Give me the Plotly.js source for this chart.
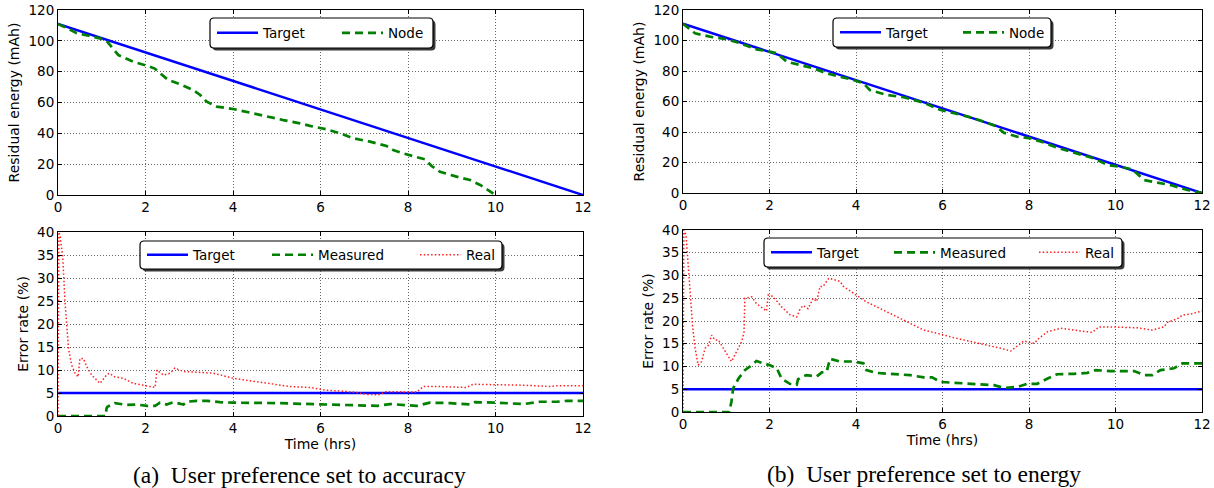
<!DOCTYPE html>
<html><head><meta charset="utf-8">
<script src="https://cdn.plot.ly/plotly-3.0.1.min.js"></script>
<style>html,body{margin:0;padding:0;background:#fff}#chart{width:1214px;height:488px}</style>
</head><body><div id="chart"></div>
<script>
const W = 1214, H = 488;

// ---------- data ----------
const xTicks = [0, 2, 4, 6, 8, 10, 12];
const energyTicks = [0, 20, 40, 60, 80, 100, 120];
const errorTicks = [0, 5, 10, 15, 20, 25, 30, 35, 40];

const targetTime = [0, 12];
const targetEnergy = [111, 0];
const targetError = [5, 5];

// (a) accuracy preference – node residual energy
const nodeTimeA = [0, 0.43, 0.96, 1.11, 1.38, 1.72, 2.03, 2.21, 2.33, 2.52, 2.83, 3.09, 3.25, 3.40, 3.63, 4.0, 4.39, 4.77, 5.15, 5.53, 5.76, 6.14, 6.45, 6.75, 7.13, 7.51, 7.66, 7.89, 8.20, 8.39, 8.54, 8.73, 9.11, 9.42, 9.65, 9.87, 10.0];
const nodeEnergyA = [111, 105, 101.6, 100, 90.8, 86.5, 83.9, 82, 79, 74.6, 71.4, 68, 64.9, 60.5, 57.3, 55.8, 53.4, 50.8, 48.6, 46.5, 44.8, 42.6, 40, 36.8, 34.6, 31.8, 29.2, 27, 24.8, 23.1, 18.8, 15.1, 11.9, 9.7, 6.5, 2.1, 0];

// (b) energy preference – node residual energy
const nodeTimeB = [0, 0.28, 0.62, 1.01, 1.32, 1.70, 2.0, 2.17, 2.40, 2.71, 3.01, 3.32, 3.63, 3.94, 4.17, 4.32, 4.71, 5.10, 5.57, 5.96, 6.27, 6.65, 6.96, 7.23, 7.42, 7.73, 8.04, 8.35, 8.65, 8.96, 9.27, 9.50, 9.81, 10.12, 10.39, 10.66, 10.97, 11.27, 11.66, 12];
const nodeEnergyB = [111, 104.7, 102.5, 100.8, 98.2, 94.2, 92.7, 91.6, 86.1, 83.9, 81.8, 78.5, 76.3, 74.1, 71.9, 67.5, 64.3, 62.8, 59.2, 54.4, 52.3, 49.6, 46.8, 43.9, 39.5, 36.9, 35.8, 33, 29.7, 27.1, 24.3, 22.7, 18.4, 17.2, 15.5, 8.5, 6.8, 5.2, 2.0, 0];

// (a) error rates
const measTimeA = [0, 1.09, 1.11, 1.13, 1.30, 1.57, 1.80, 2.03, 2.22, 2.33, 2.48, 2.64, 2.87, 2.94, 3.17, 3.40, 3.70, 4.0, 5.0, 6.0, 7.3, 7.59, 7.89, 8.2, 8.5, 8.96, 9.42, 9.53, 10.0, 10.64, 11.02, 11.4, 11.63, 12];
const measErrA = [0, 0, 1.7, 2.0, 2.8, 2.4, 2.5, 2.2, 2.2, 2.9, 2.5, 3.0, 2.5, 3.1, 3.3, 3.3, 3.0, 2.9, 2.8, 2.6, 2.2, 2.6, 2.4, 2.2, 2.9, 2.8, 2.5, 3.0, 2.9, 2.6, 3.1, 3.1, 3.3, 3.3];
const realTimeA = [0, 0.02, 0.05, 0.11, 0.16, 0.20, 0.24, 0.31, 0.39, 0.46, 0.50, 0.58, 0.66, 0.77, 0.96, 1.11, 1.17, 1.30, 1.49, 1.72, 2.03, 2.22, 2.26, 2.41, 2.56, 2.67, 2.86, 3.09, 3.40, 3.55, 4.0, 4.77, 5.31, 5.76, 6.14, 6.52, 6.83, 7.05, 7.32, 7.51, 7.89, 8.20, 8.35, 8.73, 9.34, 9.49, 10.0, 10.64, 11.25, 11.4, 12];
const realErrA = [0, 40, 39, 34.3, 24.8, 19.8, 14.7, 11.1, 9.3, 8.5, 12.5, 12.5, 10.7, 8.9, 7.1, 8.9, 9.3, 8.5, 8.2, 7.1, 6.6, 6.2, 10.0, 8.9, 9.3, 10.4, 9.7, 9.6, 9.5, 9.3, 8.2, 7.1, 6.4, 6.2, 5.6, 5.4, 5.1, 4.7, 4.6, 5.3, 5.3, 5.2, 6.4, 6.4, 6.2, 6.9, 6.8, 6.7, 6.4, 6.6, 6.6];

// (b) error rates
const measTimeB = [0, 1.07, 1.12, 1.16, 1.28, 1.43, 1.59, 1.70, 1.86, 2.0, 2.17, 2.28, 2.47, 2.63, 2.66, 2.85, 3.09, 3.21, 3.32, 3.40, 3.63, 3.94, 4.17, 4.24, 4.46, 4.86, 5.25, 5.57, 5.76, 5.96, 6.65, 7.19, 7.42, 7.73, 7.96, 8.19, 8.42, 8.65, 9.04, 9.35, 9.54, 9.88, 10.43, 10.66, 10.85, 11.04, 11.35, 11.55, 12];
const measErrB = [0, 0, 2.3, 5.2, 7.3, 9.2, 10.3, 11.2, 10.7, 10.3, 9.6, 7.3, 6.2, 6.0, 7.2, 8.1, 7.8, 8.7, 8.8, 11.7, 11.1, 11.1, 10.7, 9.2, 8.6, 8.4, 8.1, 7.6, 7.6, 6.6, 6.2, 5.9, 5.3, 5.5, 6.2, 6.2, 7.3, 8.3, 8.4, 8.6, 9.2, 9.0, 9.0, 8.1, 8.1, 9.2, 9.6, 10.7, 10.7];
const realTimeB = [0, 0.02, 0.07, 0.12, 0.16, 0.22, 0.28, 0.35, 0.43, 0.51, 0.59, 0.66, 0.74, 0.82, 1.01, 1.12, 1.24, 1.36, 1.41, 1.43, 1.59, 1.70, 1.86, 1.93, 1.97, 2.08, 2.28, 2.47, 2.63, 2.71, 2.78, 2.89, 3.01, 3.09, 3.17, 3.24, 3.37, 3.63, 3.71, 4.02, 4.24, 4.63, 5.02, 5.57, 6.0, 6.27, 6.65, 7.04, 7.35, 7.58, 7.73, 7.88, 8.12, 8.23, 8.42, 8.73, 9.04, 9.46, 9.62, 9.88, 10.5, 10.85, 11.12, 11.20, 11.43, 11.55, 11.73, 12];
const realErrB = [0, 40, 38.9, 32.3, 25, 19.1, 14, 10.3, 11.1, 14.0, 14.7, 16.9, 15.8, 15.8, 12.8, 11.1, 13.3, 15.5, 17.6, 25, 25.3, 23.8, 22.7, 22.2, 25.7, 25.4, 23.1, 21.4, 20.9, 22.7, 23.4, 22.7, 25, 24.3, 27.6, 27.6, 29.4, 28.7, 27.6, 25.7, 24.2, 22.4, 20.5, 18, 17, 16.3, 15.5, 14.7, 14, 13.4, 14.4, 15.6, 15.1, 16.2, 17.6, 18.4, 18.0, 17.5, 18.7, 18.7, 18.5, 18.0, 18.7, 19.7, 20.5, 21.3, 21.5, 22.2];

const seriesNames = ['Target', 'Node', 'Measured', 'Real'];
const captions = ['(a)\u00a0 User preference set to accuracy', '(b)\u00a0 User preference set to energy'];

// ---------- styling ----------
const FONT = 'DejaVu Sans, sans-serif';
const BLUE = '#0000ff', GREEN = '#008000', RED = '#ff2020';
const px = v => v / W;            // pixel x -> paper
const py = v => (H - v) / H;      // pixel y -> paper

const lineTarget = {color: BLUE, width: 2.5};
const lineNode = {color: GREEN, width: 2.7, dash: '8px,5px'};
const lineReal = {color: RED, width: 1.5, dash: '1.5px,2.2px'};

const traces = [
  {x: targetTime, y: targetEnergy, name: seriesNames[0], xaxis: 'x', yaxis: 'y', legend: 'legend', line: lineTarget},
  {x: nodeTimeA, y: nodeEnergyA, name: seriesNames[1], xaxis: 'x', yaxis: 'y', legend: 'legend2', line: lineNode},
  {x: targetTime, y: targetEnergy, name: seriesNames[0], xaxis: 'x2', yaxis: 'y2', legend: 'legend3', line: lineTarget},
  {x: nodeTimeB, y: nodeEnergyB, name: seriesNames[1], xaxis: 'x2', yaxis: 'y2', legend: 'legend4', line: lineNode},
  {x: targetTime, y: targetError, name: seriesNames[0], xaxis: 'x3', yaxis: 'y3', legend: 'legend5', line: lineTarget},
  {x: measTimeA, y: measErrA, name: seriesNames[2], xaxis: 'x3', yaxis: 'y3', legend: 'legend6', line: lineNode},
  {x: realTimeA, y: realErrA, name: seriesNames[3], xaxis: 'x3', yaxis: 'y3', legend: 'legend7', line: lineReal},
  {x: targetTime, y: targetError, name: seriesNames[0], xaxis: 'x4', yaxis: 'y4', legend: 'legend8', line: lineTarget},
  {x: measTimeB, y: measErrB, name: seriesNames[2], xaxis: 'x4', yaxis: 'y4', legend: 'legend9', line: lineNode},
  {x: realTimeB, y: realErrB, name: seriesNames[3], xaxis: 'x4', yaxis: 'y4', legend: 'legend10', line: lineReal}
].map(t => Object.assign({type: 'scatter', mode: 'lines', hoverinfo: 'skip'}, t));

const TICKFONT = {family: FONT, size: 13.5, color: '#000'};
const TITLEFONT = {family: FONT, size: 14, color: '#000'};

function xAxis(dom, anchor, withTitle) {
  const a = {
    domain: dom, anchor: anchor, range: [0, 12], tickvals: xTicks, ticktext: xTicks.map(String),
    showline: true, linecolor: '#000', linewidth: 1, mirror: 'ticks',
    ticks: 'inside', ticklen: 4, tickcolor: '#000', tickwidth: 1,
    showgrid: true, gridcolor: '#666', gridwidth: 1, griddash: '1px,2px',
    zeroline: false, fixedrange: true, tickfont: TICKFONT
  };
  if (withTitle) a.title = {text: 'Time (hrs)', font: TITLEFONT, standoff: 3};
  return a;
}
function yAxis(dom, anchor, rng, ticks, title) {
  return {
    domain: dom, anchor: anchor, range: rng, tickvals: ticks, ticktext: ticks.map(String),
    showline: true, linecolor: '#000', linewidth: 1, mirror: 'ticks',
    ticks: 'inside', ticklen: 4, tickcolor: '#000', tickwidth: 1,
    showgrid: true, gridcolor: '#666', gridwidth: 1, griddash: '1px,2px',
    zeroline: false, fixedrange: true, tickfont: TICKFONT,
    title: {text: title, font: TITLEFONT, standoff: 5}
  };
}

// legend frames (rounded box + drop shadow), pixel boxes
const legendBoxes = [[210, 18, 433, 48], [833, 18, 1051, 47], [140, 241, 502, 269], [764, 238, 1122, 267]];
function roundRect(b, r, dx, dy) {
  const [x0, y0, x1, y1] = [b[0] + dx, b[1] + dy, b[2] + dx, b[3] + dy];
  const P = (x, y) => px(x).toFixed(5) + ',' + py(y).toFixed(5);
  return 'M' + P(x0 + r, y0) + ' L' + P(x1 - r, y0) + ' Q' + P(x1, y0) + ' ' + P(x1, y0 + r) +
    ' L' + P(x1, y1 - r) + ' Q' + P(x1, y1) + ' ' + P(x1 - r, y1) +
    ' L' + P(x0 + r, y1) + ' Q' + P(x0, y1) + ' ' + P(x0, y1 - r) +
    ' L' + P(x0, y0 + r) + ' Q' + P(x0, y0) + ' ' + P(x0 + r, y0) + ' Z';
}
const shapes = [];
legendBoxes.forEach(b => {
  shapes.push({type: 'path', xref: 'paper', yref: 'paper', path: roundRect(b, 4, 2.5, 2.5), fillcolor: '#3a3a3a', line: {width: 0}, layer: 'above'});
  shapes.push({type: 'path', xref: 'paper', yref: 'paper', path: roundRect(b, 4, 0, 0), fillcolor: '#ffffff', line: {color: '#000', width: 1.2}, layer: 'above'});
});

function leg(xpix, ypix) {
  return {x: px(xpix), y: py(ypix), xanchor: 'left', yanchor: 'middle', orientation: 'h',
    bgcolor: 'rgba(0,0,0,0)', borderwidth: 0, itemwidth: 41,
    font: {family: FONT, size: 13.5, color: '#000'},
    itemclick: false, itemdoubleclick: false, tracegroupgap: 0};
}

const layout = {
  width: W, height: H, margin: {l: 0, r: 0, t: 0, b: 0},
  paper_bgcolor: '#fff', plot_bgcolor: '#fff', showlegend: true,
  xaxis: xAxis([px(58), px(583)], 'y', false),
  yaxis: yAxis([py(195), py(10)], 'x', [0, 120], energyTicks, 'Residual energy (mAh)'),
  xaxis2: xAxis([px(683), px(1202)], 'y2', false),
  yaxis2: yAxis([py(193), py(10)], 'x2', [0, 120], energyTicks, 'Residual energy (mAh)'),
  xaxis3: xAxis([px(58), px(583)], 'y3', true),
  yaxis3: yAxis([py(416), py(232)], 'x3', [0, 40], errorTicks, 'Error rate (%)'),
  xaxis4: xAxis([px(683), px(1202)], 'y4', true),
  yaxis4: yAxis([py(412), py(230)], 'x4', [0, 40], errorTicks, 'Error rate (%)'),
  legend: leg(212, 33), legend2: leg(337, 33),
  legend3: leg(835, 32.5), legend4: leg(958, 32.5),
  legend5: leg(142, 255), legend6: leg(267, 255), legend7: leg(415, 255),
  legend8: leg(766, 252.5), legend9: leg(889, 252.5), legend10: leg(1034, 252.5),
  shapes: shapes,
  annotations: [
    {text: captions[0], xref: 'paper', yref: 'paper', x: px(299), y: py(475), xanchor: 'center', yanchor: 'middle', showarrow: false,
     font: {family: 'Liberation Serif, Times New Roman, serif', size: 23.5, color: '#000'}},
    {text: captions[1], xref: 'paper', yref: 'paper', x: px(924), y: py(474), xanchor: 'center', yanchor: 'middle', showarrow: false,
     font: {family: 'Liberation Serif, Times New Roman, serif', size: 23.5, color: '#000'}}
  ]
};

Plotly.newPlot('chart', traces, layout, {staticPlot: true, displayModeBar: false});
</script></body></html>
